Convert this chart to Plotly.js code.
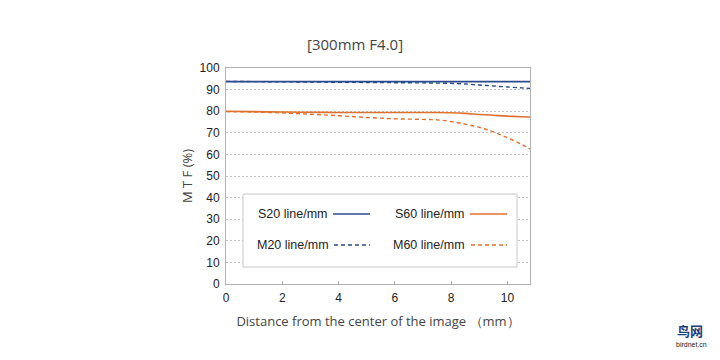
<!DOCTYPE html>
<html><head><meta charset="utf-8">
<script src="https://cdn.plot.ly/plotly-3.0.1.min.js"></script>
<style>html,body{margin:0;padding:0;background:#fff}#c{width:720px;height:360px}</style>
</head><body><div id="c"></div>
<script>
const xVals = [0, 1, 2, 3, 4, 5, 6, 7, 7.5, 8, 8.5, 9, 9.5, 10, 10.5, 10.8];
const s20 = [93.7, 93.7, 93.7, 93.7, 93.7, 93.7, 93.7, 93.7, 93.7, 93.7, 93.7, 93.7, 93.7, 93.7, 93.7, 93.7];
const m20 = [93.8, 93.7, 93.6, 93.5, 93.4, 93.3, 93.2, 93.1, 93.0, 92.9, 92.6, 92.1, 91.7, 91.2, 90.8, 90.5];
const s60 = [80.0, 79.8, 79.6, 79.5, 79.4, 79.4, 79.4, 79.4, 79.4, 79.3, 79.0, 78.5, 78.1, 77.7, 77.4, 77.3];
const m60 = [79.8, 79.6, 79.2, 78.6, 77.9, 77.1, 76.5, 76.2, 76.0, 75.2, 74.0, 72.5, 70.4, 67.7, 64.7, 62.5];
const seriesNames = ["S20 line/mm", "S60 line/mm", "M20 line/mm", "M60 line/mm"];
const yTicks = [0, 10, 20, 30, 40, 50, 60, 70, 80, 90, 100];
const xTicks = [0, 2, 4, 6, 8, 10];

const blue = "#2a4a8c", orange = "#e0702e";
const traces = [
  {x: xVals, y: s20, mode: "lines", line: {color: blue, width: 1.6}, name: seriesNames[0]},
  {x: xVals, y: s60, mode: "lines", line: {color: orange, width: 1.6, shape: "spline"}, name: seriesNames[1]},
  {x: xVals, y: m20, mode: "lines", line: {color: blue, width: 1.4, dash: "4px,3px", shape: "spline"}, name: seriesNames[2]},
  {x: xVals, y: m60, mode: "lines", line: {color: orange, width: 1.4, dash: "4px,3px", shape: "spline"}, name: seriesNames[3]}
];

// legend layout in paper coords (plot spans x 226..530, y 68..284)
const px = v => (v - 226) / 304;
const py = v => (284 - v) / 216;
const shapes = [
  {type: "rect", xref: "paper", yref: "paper", x0: px(243), x1: px(517), y0: py(267), y1: py(194),
   fillcolor: "#fff", line: {color: "#c8c8c8", width: 1}, layer: "above"}
];
const annotations = [];
const legPos = [
  {tx: 329, lx0: 333, lx1: 370, y: 214},
  {tx: 466, lx0: 470, lx1: 507, y: 214},
  {tx: 331, lx0: 334, lx1: 370, y: 245},
  {tx: 467, lx0: 471, lx1: 507, y: 245}
];
traces.forEach((t, i) => {
  const p = legPos[i];
  shapes.push({type: "line", xref: "paper", yref: "paper", x0: px(p.lx0), x1: px(p.lx1), y0: py(p.y), y1: py(p.y),
    line: {color: t.line.color, width: 1.6, dash: t.line.dash ? "4px,3px" : "solid"}, layer: "above"});
  annotations.push({xref: "paper", yref: "paper", x: px(p.tx), y: py(p.y), xanchor: "right", yanchor: "middle",
    text: seriesNames[i], showarrow: false, font: {family: "Liberation Sans, Arial", size: 12.5, color: "#222"}});
});
annotations.push({xref: "paper", yref: "paper", x: px(355), y: py(44), xanchor: "center", yanchor: "middle",
  text: "[300mm F4.0]", showarrow: false, font: {family: "Open Sans", size: 15, color: "#444"}});
annotations.push({xref: "paper", yref: "paper", x: px(705), y: py(330), xanchor: "right", yanchor: "middle",
  text: "<b>鸟网</b>", showarrow: false, font: {family: "Noto Sans CJK SC", size: 13, color: "#1e3c7a"}});
annotations.push({xref: "paper", yref: "paper", x: px(709), y: py(344), xanchor: "right", yanchor: "middle",
  text: "birdnet.cn", showarrow: false, font: {family: "Liberation Sans", size: 7, color: "#222"}});

const layout = {
  width: 720, height: 360,
  margin: {l: 226, r: 190, t: 68, b: 76, pad: 0},
  paper_bgcolor: "#fff", plot_bgcolor: "#fff",
  showlegend: false,
  font: {family: "Liberation Sans, Arial", size: 12, color: "#222"},
  xaxis: {range: [0, 10.8], tickvals: xTicks, ticktext: xTicks.map(String), showgrid: false, zeroline: false,
    showline: true, mirror: true, linecolor: "#b0b0b0", linewidth: 1, ticks: "inside", ticklen: 3, tickcolor: "#b0b0b0",
    ticklabelstandoff: 3,
    tickfont: {size: 12, color: "#222"},
    title: {text: "Distance from the center of the image （mm）", font: {family: "Open Sans", size: 13, color: "#444"}, standoff: 12}},
  yaxis: {range: [0, 100], tickvals: yTicks, ticktext: yTicks.map(String), showgrid: true, gridcolor: "#c4c4c4",
    griddash: "2px,2px", gridwidth: 1, zeroline: false, showline: true, mirror: true, linecolor: "#b0b0b0", linewidth: 1,
    ticks: "", ticklabelstandoff: 3, tickfont: {size: 12, color: "#222"},
    title: {text: "M T F (%)", font: {family: "Open Sans", size: 13, color: "#444"}, standoff: 4}},
  shapes: shapes,
  annotations: annotations
};
Plotly.newPlot("c", traces, layout, {staticPlot: true, displayModeBar: false});
</script>
</body></html>
